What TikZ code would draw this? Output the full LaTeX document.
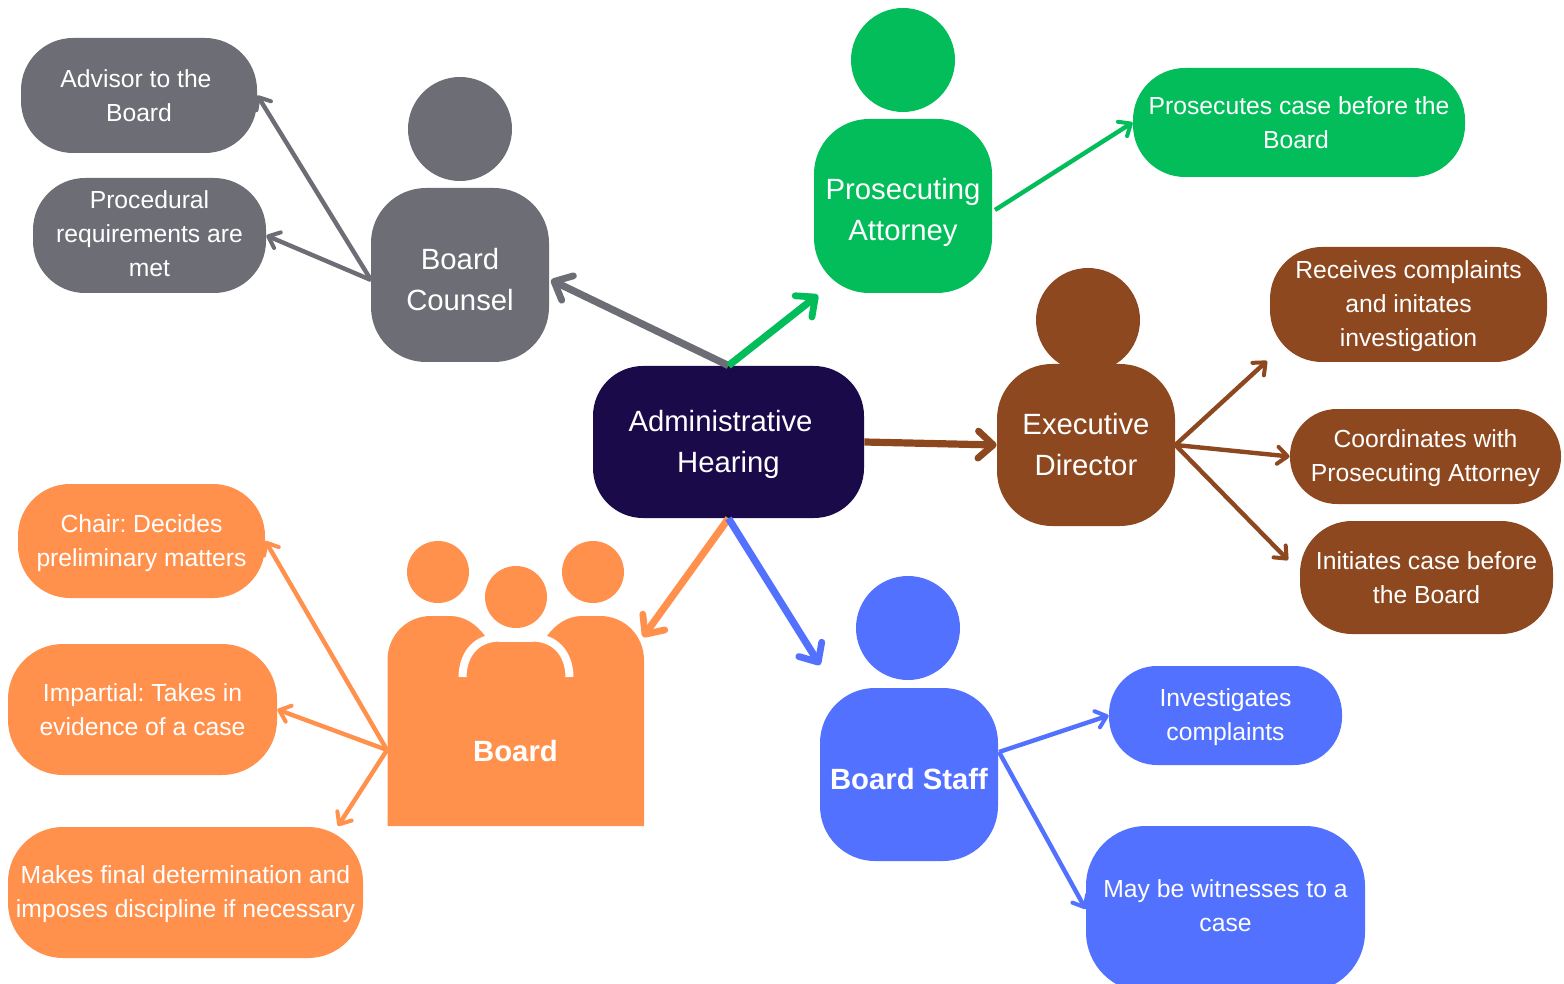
\documentclass[tikz,border=0pt]{standalone}
\usepackage{fontspec}
\setmainfont{Liberation Sans}
\usetikzlibrary{arrows.meta}
\frenchspacing
\definecolor{cgray}{HTML}{6D6E75}
\definecolor{cgreen}{HTML}{03BD5B}
\definecolor{cbrown}{HTML}{8E4820}
\definecolor{cblue}{HTML}{5271FF}
\definecolor{corange}{HTML}{FF914D}
\definecolor{cnavy}{HTML}{1A0A4A}
\newcommand{\txtdown}[1]{\rule{0pt}{\dimexpr0.73em+#1pt\relax}}
\newcommand{\txtup}[1]{\rule[-#1pt]{0pt}{#1pt}}
\tikzset{
  x=0.5pt,y=-0.5pt,
  sz/.style n args={3}{minimum width=#1*0.5pt,minimum height=#2*0.5pt,rounded corners=#3*0.5pt},
  basebox/.style={rectangle,inner sep=0pt,align=center,text=white},
  pill/.style={basebox,font=\fontsize{12.35}{17}\selectfont},
  body/.style={basebox,font=\fontsize{14.65}{20.5}\selectfont},
  boldbody/.style={basebox,font=\fontsize{14.65}{20.5}\selectfont\bfseries},
  head/.style={circle,inner sep=0pt,minimum size=#1*0.5pt},
  big/.style={line width=3.6pt,-{Straight Barb[length=7.5pt,width=13.5pt,round,line width=3.4pt]}},
  thin/.style={line width=2.2pt,-{Straight Barb[length=5pt,width=8.5pt,round,line width=2pt]}},
}
\begin{document}
\begin{tikzpicture}
\useasboundingbox (0,0) rectangle (1564,984);
\clip (0,0) rectangle (1564,984);
\fill[white] (0,0) rectangle (1564,984);

% centre
\node[body,fill=cnavy,sz={271}{152}{50}] (admin) at (728.5,442) {\txtdown{2}Administrative\hspace*{8pt}\\Hearing};

% board counsel
\node[head=104,fill=cgray] (counselhead) at (460,129) {};
\node[body,fill=cgray,sz={178}{174}{55}] (counsel) at (460,275) {\txtdown{4}Board\\Counsel};
\node[pill,fill=cgray,sz={236}{115}{52}] (advisor) at (139,95.5) {Advisor to the\hspace*{3pt}\\Board};
\node[pill,fill=cgray,sz={233}{115}{52}] (procedural) at (149.5,235.5) {Procedural\\requirements are\\met\txtup{2}};
\coordinate (counselin) at (551,280);
\coordinate (counselout) at (371,280);

% prosecuting attorney
\node[head=104,fill=cgreen] (proshead) at (903,60) {};
\node[body,fill=cgreen,sz={178}{174}{55}] (pros) at (903,206) {\txtdown{6}Prosecuting\\Attorney};
\node[pill,fill=cgreen,sz={332}{109}{52}] (prosecutes) at (1299,122.5) {Prosecutes case before the\\Board\hspace*{3pt}};
\coordinate (prosin) at (818,295);
\coordinate (prosout) at (995,210);

% executive director
\node[head=104,fill=cbrown] (exechead) at (1088,320) {};
\node[body,fill=cbrown,sz={178}{162}{55}] (exec) at (1086,445) {Executive\\Director};
\node[pill,fill=cbrown,sz={277}{115}{52}] (receives) at (1408.5,304.5) {\txtdown{2}Receives complaints\\and initates\\investigation};
\node[pill,fill=cbrown,sz={271}{95}{47}] (coordinates) at (1425.5,456.5) {\txtdown{2}Coordinates with\\Prosecuting Attorney};
\node[pill,fill=cbrown,sz={253}{113}{52}] (initiates) at (1426.5,577.5) {Initiates case before\\the Board};
\coordinate (receivesin) at (1267,361);
\coordinate (initiatesin) at (1288,560);

% board staff
\node[head=104,fill=cblue] (staffhead) at (908,628) {};
\node[boldbody,fill=cblue,sz={178}{173}{55}] (staff) at (909,774.5) {\txtdown{4}Board Staff};
\node[pill,fill=cblue,sz={233}{99}{48}] (investigates) at (1225.5,715.5) {\txtdown{2}Investigates\\complaints};
\node[pill,fill=cblue,sz={279}{166}{60}] (witness) at (1225.5,909) {May be witnesses to a\\case\txtup{3}};
\coordinate (staffin) at (820,665);
\coordinate (staffout) at (999,752);

% board group
\fill[corange] (387.5,826) -- (387.5,660) .. controls (387.5,636) and (406,616) .. (431,616) -- (450,616)
  .. controls (465,616) and (477,625) .. (485,636) -- (500,642) -- (532,642) -- (547,636)
  .. controls (555,625) and (567,616) .. (582,616) -- (600,616)
  .. controls (625,616) and (644,636) .. (644,660) -- (644,826) -- cycle;
\draw[white,line width=4pt] (462.5,677) .. controls (463,652) and (478,637.5) .. (500,637.5) -- (532,637.5)
  .. controls (554,637.5) and (569,652) .. (569.5,677);
\node[head=62,fill=corange] (boardheadl) at (438,572) {};
\node[head=62,fill=corange] (boardheadm) at (516,597) {};
\node[head=62,fill=corange] (boardheadr) at (593,572) {};
\node[boldbody] (board) at (515.5,751) {Board};
\node[pill,fill=corange,sz={247}{114}{52}] (chair) at (141.5,541) {\txtdown{2}Chair: Decides\\preliminary matters};
\node[pill,fill=corange,sz={269}{131}{55}] (impartial) at (142.5,709.5) {Impartial: Takes in\\evidence of a case};
\node[pill,fill=corange,sz={355}{131}{55}] (makes) at (185.5,892.5) {\txtdown{2}Makes final determination and\\imposes discipline if necessary};
\coordinate (boardin) at (643,637);
\coordinate (boardout) at (387,750);
\coordinate (makesin) at (338,826);

% connectors
\draw[big,cgray] (admin.north) -- (counselin);
\draw[big,cgreen] (admin.north) -- (prosin);
\draw[big,cbrown] (admin.east) -- (exec.west);
\draw[big,corange] (admin.south) -- (boardin);
\draw[big,cblue] (admin.south) -- (staffin);

\draw[thin,cgray] (counselout) -- (advisor.east);
\draw[thin,cgray] (counselout) -- (procedural.east);
\draw[thin,cgreen] (prosout) -- (prosecutes.west);
\draw[thin,cbrown] (exec.east) -- (receivesin);
\draw[thin,cbrown] (exec.east) -- (coordinates.west);
\draw[thin,cbrown] (exec.east) -- (initiatesin);
\draw[thin,cblue] (staffout) -- (investigates.west);
\draw[thin,cblue] (staffout) -- (witness.west);
\draw[thin,corange] (boardout) -- (chair.east);
\draw[thin,corange] (boardout) -- (impartial.east);
\draw[thin,corange] (boardout) -- (makesin);
\end{tikzpicture}
\end{document}
